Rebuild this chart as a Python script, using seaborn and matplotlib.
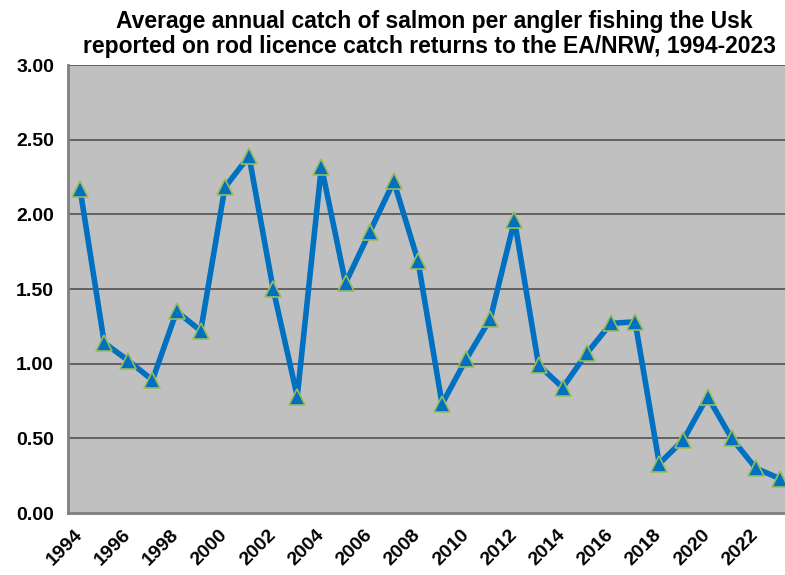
import matplotlib
matplotlib.use("Agg")
import matplotlib.pyplot as plt
import seaborn as sns
import pandas as pd
import numpy as np

years = list(range(1994, 2024))
catch_per_angler = [2.17, 1.14, 1.02, 0.89, 1.35, 1.22, 2.18, 2.39, 1.50, 0.78,
                    2.32, 1.54, 1.88, 2.22, 1.69, 0.73, 1.03, 1.30, 1.96, 0.99,
                    0.84, 1.07, 1.27, 1.28, 0.33, 0.49, 0.78, 0.50, 0.30, 0.23]
y_ticks = [0.0, 0.5, 1.0, 1.5, 2.0, 2.5, 3.0]
x_labels = [str(y) for y in range(1994, 2024, 2)]
title_lines = ["Average annual catch of salmon per angler fishing the Usk",
               "reported on rod licence catch returns to the EA/NRW, 1994-2023"]

df = pd.DataFrame({"year": years, "catch": catch_per_angler})

sns.set_style("white")
plt.rcParams["font.family"] = ["Liberation Sans", "DejaVu Sans"]
plt.rcParams["text.color"] = "black"
plt.rcParams["xtick.labelcolor"] = "black"
plt.rcParams["ytick.labelcolor"] = "black"

fig = plt.figure(figsize=(7.85, 5.75), dpi=100)
ax = fig.add_axes([68 / 785, 1 - 513 / 575, 724 / 785, 448 / 575])
ax.set_facecolor("#c0c0c0")

sns.lineplot(data=df, x="year", y="catch", ax=ax, color="#0070c0", linewidth=4,
             marker="^", markersize=11, markerfacecolor="#0070c0",
             markeredgecolor="#9bbb59", markeredgewidth=1.2, zorder=3)

ax.set_xlim(1993.5, 2023.5)
ax.set_ylim(0, 3)
ax.set_yticks(y_ticks)
ax.set_yticklabels([f"{v:.2f}" for v in y_ticks], fontsize=14, fontweight="bold")
ax.set_xticks(list(range(1994, 2024, 2)))
ax.set_xticklabels(x_labels, rotation=45, ha="right", va="center",
                   rotation_mode="anchor", fontsize=14, fontweight="bold")
ax.set_xticks(np.arange(1993.5, 2024, 1), minor=True)
ax.tick_params(axis="x", which="major", length=0, pad=14, labelcolor="black")
ax.tick_params(axis="x", which="minor", length=5, width=1.2, color="#808080",
               direction="out")
ax.tick_params(axis="y", length=6, width=1.2, color="#808080", direction="out",
               pad=4, labelcolor="black")

for v in y_ticks[1:]:
    ax.axhline(v, color="#5a5a5a", linewidth=1.3, zorder=1)

for s in ["top", "right"]:
    ax.spines[s].set_visible(False)
for s in ["left", "bottom"]:
    ax.spines[s].set_color("#808080")
    ax.spines[s].set_linewidth(2)

ax.set_xlabel("")
ax.set_ylabel("")

fig.text(0.553, 1 - 28 / 575, title_lines[0], ha="center", va="baseline",
         fontsize=16.5, fontweight="bold", color="black")
fig.text(0.547, 1 - 53 / 575, title_lines[1], ha="center", va="baseline",
         fontsize=16.5, fontweight="bold", color="black")

fig.savefig("out.png", dpi=100)
